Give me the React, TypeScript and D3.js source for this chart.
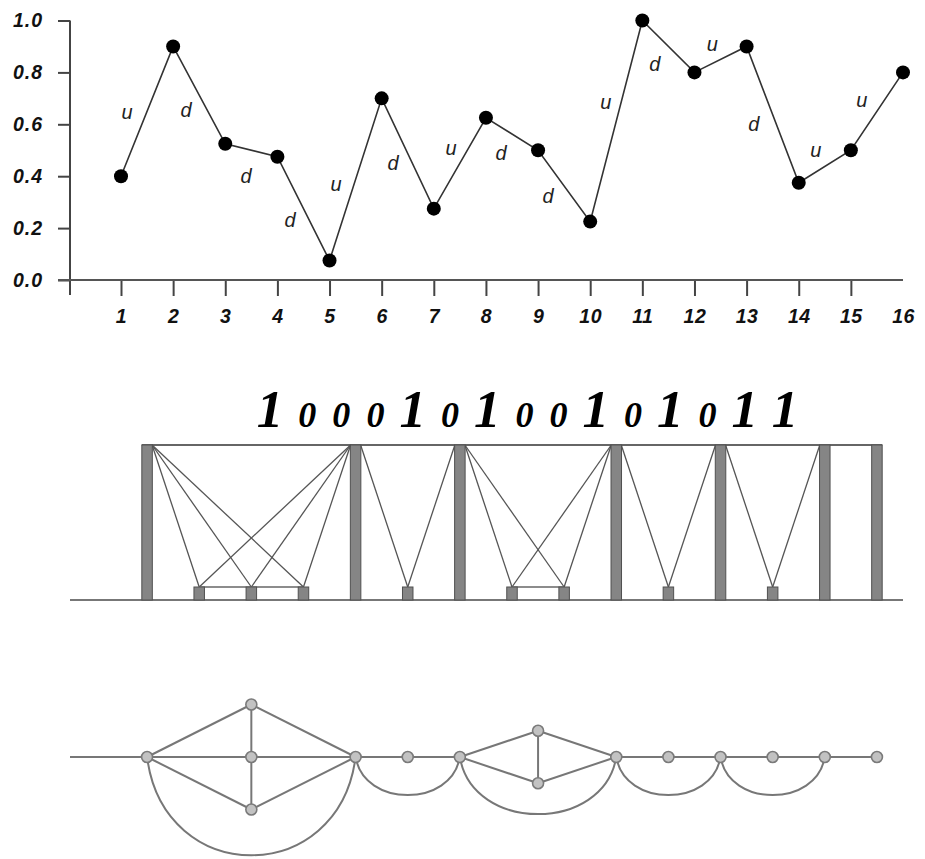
import React, { useRef, useEffect } from "react";
import * as d3 from "d3";

// top chart data
const steps = [1, 2, 3, 4, 5, 6, 7, 8, 9, 10, 11, 12, 13, 14, 15, 16];
const values = [0.4, 0.9, 0.525, 0.475, 0.075, 0.7, 0.275, 0.625, 0.5, 0.225, 1.0, 0.8, 0.9, 0.375, 0.5, 0.8];
const yTicks = [0, 0.2, 0.4, 0.6, 0.8, 1.0];
const xTickMarks = [1, 2, 3, 4, 5, 6, 7, 8, 9, 10, 11, 12, 13, 14, 15];
// where each u / d note sits, in chart units (step, value at baseline)
const noteX = [1.115, 2.247, 3.398, 4.242, 5.124, 6.218, 7.33, 8.29, 9.19, 10.3, 11.24, 12.34, 13.14, 14.33, 15.21];
const noteY = [0.621, 0.629, 0.375, 0.206, 0.344, 0.425, 0.483, 0.463, 0.298, 0.66, 0.806, 0.883, 0.575, 0.475, 0.667];

// u = up, d = down, then 1 / 0
const moves = values.slice(1).map((v, i) => (v > values[i] ? "u" : "d"));
const bits = moves.map(m => (m === "u" ? 1 : 0));

const App = () => {
  const svgRef = useRef(null);

  useEffect(() => {
    const svg = d3.select(svgRef.current);
    svg.selectAll("*").remove();

    const sans = "'Liberation Sans', Arial, sans-serif";
    const x = d3.scaleLinear().domain([1, 16]).range([121, 903]);
    const y = d3.scaleLinear().domain([0, 1]).range([280, 20.5]);

    // ---------- top: line chart ----------
    const top = svg.append("g");

    const yAxis = d3.axisLeft(y).tickValues(yTicks).tickSize(12).tickPadding(15)
      .tickFormat(d3.format(".1f")).tickSizeOuter(0);
    const yAxisG = top.append("g").attr("transform", "translate(70,0)").call(yAxis);
    yAxisG.select(".domain").remove();
    yAxisG.selectAll("line").attr("stroke", "#444").attr("stroke-width", 2);
    yAxisG.selectAll("text")
      .attr("font-family", sans).attr("font-size", 19.5).attr("font-weight", "bold")
      .attr("font-style", "italic").attr("letter-spacing", 1).attr("fill", "#111");

    const xAxis = d3.axisBottom(x).tickValues(steps).tickSize(16).tickPadding(13)
      .tickFormat(d3.format("d")).tickSizeOuter(0);
    const xAxisG = top.append("g").attr("transform", "translate(0,280)").call(xAxis);
    xAxisG.select(".domain").remove();
    xAxisG.selectAll(".tick").filter(d => !xTickMarks.includes(d)).select("line").remove();
    xAxisG.selectAll("line").attr("stroke", "#444").attr("stroke-width", 2);
    xAxisG.selectAll("text")
      .attr("font-family", sans).attr("font-size", 19.5).attr("font-weight", "bold")
      .attr("font-style", "italic").attr("letter-spacing", 0.5).attr("fill", "#111");

    // axis lines, the y one runs a bit below zero
    top.append("line").attr("x1", 70).attr("x2", 70).attr("y1", y(1)).attr("y2", 295)
      .attr("stroke", "#444").attr("stroke-width", 2);
    top.append("line").attr("x1", 58).attr("x2", x(16)).attr("y1", y(0)).attr("y2", y(0))
      .attr("stroke", "#555").attr("stroke-width", 2);

    const line = d3.line().x((d, i) => x(steps[i])).y(d => y(d));
    top.append("path").datum(values).attr("d", line)
      .attr("fill", "none").attr("stroke", "#333").attr("stroke-width", 1.6);

    top.selectAll("circle.pt").data(values).enter().append("circle")
      .attr("class", "pt")
      .attr("cx", (d, i) => x(steps[i])).attr("cy", d => y(d)).attr("r", 7)
      .attr("fill", "#000");

    top.selectAll("text.note").data(moves).enter().append("text")
      .attr("class", "note")
      .attr("x", (d, i) => x(noteX[i])).attr("y", (d, i) => y(noteY[i]))
      .attr("text-anchor", "middle")
      .attr("font-family", sans).attr("font-size", 20).attr("font-style", "italic")
      .attr("fill", "#222").text(d => d);

    // ---------- middle: bars ----------
    const mid = svg.append("g");
    const bx = i => x(i + 1.5);
    const hy = d3.scaleLinear().domain([0, 1]).range([587, 445]);
    const base = 600;
    const tall = bits.map((b, i) => (b ? i : -1)).filter(i => i >= 0);
    const pairs = d3.pairs(tall);

    // binary digits
    const stepW = (a, b) => (a === 1 ? 19.5 : 16.5) + (b === 1 ? 19.5 : 16.5);
    const flow = [0];
    for (let i = 1; i < bits.length; i++) flow.push(flow[i - 1] + stepW(bits[i - 1], bits[i]));
    const dx = d3.scaleLinear().domain([0, flow[flow.length - 1]]).range([270, 785]);
    mid.selectAll("text.bit").data(bits).enter().append("text")
      .attr("class", "bit")
      .attr("x", (d, i) => dx(flow[i])).attr("y", 427)
      .attr("text-anchor", "middle")
      .attr("font-family", "'Liberation Serif', 'Times New Roman', serif")
      .attr("font-weight", "bold").attr("font-style", "italic")
      .attr("font-size", d => (d ? 53 : 36)).attr("fill", "#000")
      .text(d => d);

    mid.append("line").attr("x1", bx(0) - 5.25).attr("x2", bx(bits.length - 1) + 5.25)
      .attr("y1", hy(1)).attr("y2", hy(1)).attr("stroke", "#666").attr("stroke-width", 1.8);
    mid.append("line").attr("x1", 70).attr("x2", 903).attr("y1", base).attr("y2", base)
      .attr("stroke", "#777").attr("stroke-width", 1.8);

    pairs.forEach(([a, b]) => {
      const smalls = d3.range(a + 1, b);
      smalls.forEach(s => {
        mid.append("line").attr("x1", bx(a) + 5).attr("y1", hy(1)).attr("x2", bx(s)).attr("y2", hy(0))
          .attr("stroke", "#555").attr("stroke-width", 1.3);
        mid.append("line").attr("x1", bx(b) - 5).attr("y1", hy(1)).attr("x2", bx(s)).attr("y2", hy(0))
          .attr("stroke", "#555").attr("stroke-width", 1.3);
      });
      if (smalls.length > 1) {
        mid.append("line").attr("x1", bx(smalls[0])).attr("x2", bx(smalls[smalls.length - 1]))
          .attr("y1", hy(0)).attr("y2", hy(0)).attr("stroke", "#666").attr("stroke-width", 1.5);
      }
    });

    mid.selectAll("rect.bar").data(bits).enter().append("rect")
      .attr("class", "bar")
      .attr("x", (d, i) => bx(i) - 5.25).attr("width", 10.5)
      .attr("y", d => hy(d)).attr("height", d => base - hy(d))
      .attr("fill", "#858585").attr("stroke", "#505050").attr("stroke-width", 1);

    // ---------- bottom: graph ----------
    const bot = svg.append("g");
    const gy = d3.scaleLinear().domain([0, 1]).range([757, 704.5]);
    const edge = "#777";

    bot.append("line").attr("x1", 70).attr("x2", bx(0)).attr("y1", gy(0)).attr("y2", gy(0))
      .attr("stroke", edge).attr("stroke-width", 2);

    const nodes = tall.map(i => [bx(i), gy(0)]);
    pairs.forEach(([a, b]) => {
      const smalls = d3.range(a + 1, b);
      const xa = bx(a), xb = bx(b);
      if (!smalls.length) {
        bot.append("line").attr("x1", xa).attr("x2", xb).attr("y1", gy(0)).attr("y2", gy(0))
          .attr("stroke", edge).attr("stroke-width", 2);
        return;
      }
      const k = smalls.length;
      const cx = d3.mean(smalls, bx);
      const levels = d3.range(k).map(j => (k - 1) / 2 - j);
      levels.forEach(l => {
        [xa, xb].forEach(xe => {
          bot.append("line").attr("x1", xe).attr("y1", gy(0)).attr("x2", cx).attr("y2", gy(l))
            .attr("stroke", edge).attr("stroke-width", 2);
        });
        nodes.push([cx, gy(l)]);
      });
      if (k > 1) {
        bot.append("line").attr("x1", cx).attr("x2", cx)
          .attr("y1", gy(levels[0])).attr("y2", gy(levels[k - 1]))
          .attr("stroke", edge).attr("stroke-width", 2);
      }
      const span = xb - xa;
      const depth = 0.365 * span * (k >= 3 ? 1.29 : 1);
      const h = depth / 0.75;
      const p = d3.path();
      p.moveTo(xa, gy(0));
      p.bezierCurveTo(xa + 0.08 * span, gy(0) + h, xb - 0.08 * span, gy(0) + h, xb, gy(0));
      bot.append("path").attr("d", p.toString()).attr("fill", "none")
        .attr("stroke", edge).attr("stroke-width", 2);
    });

    bot.selectAll("circle.node").data(nodes).enter().append("circle")
      .attr("class", "node")
      .attr("cx", d => d[0]).attr("cy", d => d[1]).attr("r", 5.5)
      .attr("fill", "#c2c2c2").attr("stroke", "#7a7a7a").attr("stroke-width", 1.6);
  }, []);

  return (
    <svg
      ref={svgRef}
      width={925}
      height={859}
      style={{ position: "absolute", left: 0, top: 0, background: "#fff" }}
    />
  );
};

export default App;
